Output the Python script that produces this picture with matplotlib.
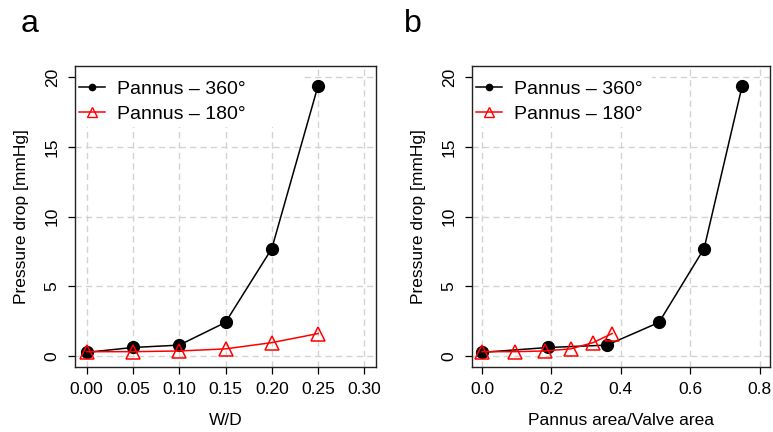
"""Pressure drop vs pannus size, two panels (W/D and area ratio)."""
import matplotlib
matplotlib.use("Agg")
import matplotlib.pyplot as plt
from matplotlib.patches import Rectangle
from matplotlib.lines import Line2D

plt.rcParams["font.family"] = ["Liberation Sans", "DejaVu Sans"]

# data
wd = [0.00, 0.05, 0.10, 0.15, 0.20, 0.25]
area_360 = [0.00, 0.19, 0.36, 0.51, 0.64, 0.75]
area_180 = [0.00, 0.095, 0.18, 0.255, 0.32, 0.375]
dp_360 = [0.25, 0.60, 0.77, 2.40, 7.70, 19.40]
dp_180 = [0.30, 0.30, 0.35, 0.50, 0.95, 1.60]

xticks_a = [0.00, 0.05, 0.10, 0.15, 0.20, 0.25, 0.30]
xticks_b = [0.0, 0.2, 0.4, 0.6, 0.8]
yticks = [0, 5, 10, 15, 20]

W, H = 773, 432
GRID = "#d3d3d3"


def px_axes(fig, left, top, right, bottom):
    return fig.add_axes([left / W, 1 - bottom / H, (right - left) / W, (bottom - top) / H])


def panel(ax, x360, x180, xticks, xfmt, xlim, xlabel, legend_w):
    for t in xticks:
        ax.axvline(t, color=GRID, lw=1.0, dashes=(4.5, 3), zorder=0)
    for t in yticks:
        ax.axhline(t, color=GRID, lw=1.0, dashes=(4.5, 3), zorder=0)

    ax.plot(x360, dp_360, color="black", lw=1.1, marker="o", ms=8.5,
            zorder=3)
    ax.plot(x180, dp_180, color="red", lw=1.1, marker="^", ms=10.5,
            mfc="none", mec="red", mew=1.1, zorder=4)

    ax.set_xlim(*xlim)
    ax.set_ylim(-0.8, 20.8)
    ax.set_xticks(xticks)
    ax.set_xticklabels([xfmt.format(t) for t in xticks])
    ax.set_yticks(yticks)
    ax.tick_params(direction="out", length=5, width=0.9, labelsize=12.5,
                   colors="black")
    ax.tick_params(axis="x", pad=5.5)
    ax.tick_params(axis="y", pad=6, labelrotation=90)
    for lab in ax.get_yticklabels():
        lab.set_va("center")
    for s in ax.spines.values():
        s.set_linewidth(1.0)
        s.set_color("#222222")

    ax.set_xlabel(xlabel, fontsize=12.5)
    ax.xaxis.set_label_coords(0.5, -0.178)
    ax.xaxis.label.set_va("center")
    ax.set_ylabel("Pressure drop [mmHg]", fontsize=12.5)
    ax.yaxis.set_label_coords(-53 / 298, 0.5)
    ax.yaxis.label.set_va("center")

    # white legend background, like R's legend(bg="white", bty="n")
    ax.add_patch(Rectangle((0, 1 - 61 / 301), legend_w, 61 / 301,
                           transform=ax.transAxes, facecolor="white",
                           edgecolor="none", zorder=2))
    handles = [
        Line2D([], [], color="black", lw=1.1, marker="o", ms=4.5),
        Line2D([], [], color="red", lw=1.1, marker="^", ms=6.5,
               mfc="none", mec="red"),
    ]
    ax.legend(handles, ["Pannus \u2013 360\u00b0", "Pannus \u2013 180\u00b0"],
              loc="upper left", bbox_to_anchor=(-8 / 300, 1 - 2 / 301),
              frameon=False, fontsize=14, handlelength=1.34,
              handletextpad=0.62, labelspacing=0.38, borderpad=0.62,
              borderaxespad=0.0)


fig = plt.figure(figsize=(W / 100, H / 100), dpi=100)

ax_a = px_axes(fig, 75, 66, 376, 367)
panel(ax_a, wd, wd, xticks_a, "{:.2f}", (-0.0125, 0.3125), "W/D", 228 / 301)

ax_b = px_axes(fig, 472, 66, 770, 367)
panel(ax_b, area_360, area_180, xticks_b, "{:.1f}", (-0.029, 0.83),
      "Pannus area/Valve area", 180 / 298)

fig.text(30 / W, 1 - 24 / H, "a", fontsize=23, ha="center", va="center")
fig.text(413 / W, 1 - 24 / H, "b", fontsize=23, ha="center", va="center")

fig.savefig("out.png", dpi=100)
